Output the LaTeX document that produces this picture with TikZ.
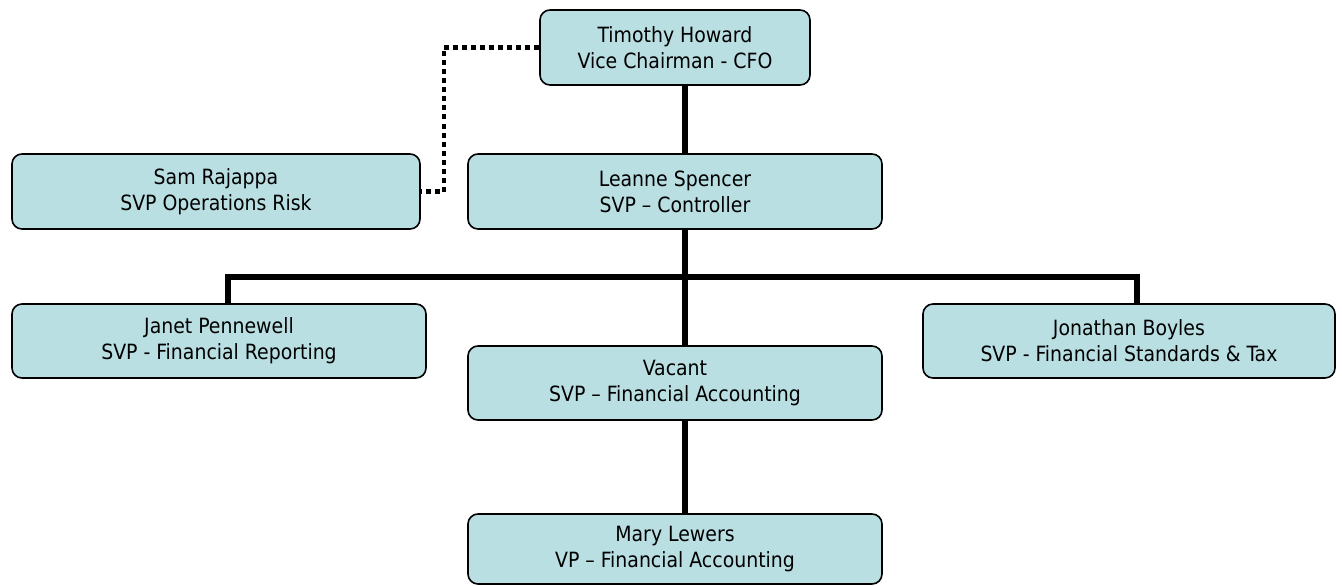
\documentclass[tikz,border=0pt]{standalone}
\usepackage{fontspec}
\setmainfont{DejaVu Sans Condensed}
\definecolor{boxfill}{RGB}{185,223,227}
\tikzset{
  person/.style={draw=black, line width=1.6pt, fill=boxfill, rounded corners=10pt,
    align=center, inner sep=0pt, font=\fontsize{21}{26}\selectfont},
  orgline/.style={line width=6pt},
  dotline/.style={line width=4.5pt, dash pattern=on 5pt off 4pt}
}
\begin{document}
\begin{tikzpicture}[x=1pt,y=-1pt]
    \useasboundingbox (0,0) rectangle (1342,586);

    % top of the chart
    \node[person, minimum width=270pt, minimum height=75pt] (tim) at (675,47.5)
        {Timothy Howard\\Vice Chairman - CFO};
    \node[person, minimum width=408pt, minimum height=75pt] (sam) at (216,191.5)
        {Sam Rajappa\\SVP Operations Risk};
    \node[person, minimum width=414pt, minimum height=75pt] (leanne) at (675,191.5)
        {Leanne Spencer\\SVP -- Controller};

    % second level
    \node[person, minimum width=414pt, minimum height=74pt] (janet) at (219,341)
        {Janet Pennewell\\SVP - Financial Reporting};
    \node[person, minimum width=414pt, minimum height=74pt] (vacant) at (675,383)
        {Vacant\\SVP -- Financial Accounting};
    \node[person, minimum width=412pt, minimum height=74pt] (jon) at (1129,341)
        {Jonathan Boyles\\SVP - Financial Standards \& Tax};
    \node[person, minimum width=414pt, minimum height=70pt] (mary) at (675,549)
        {Mary Lewers\\VP -- Financial Accounting};

    % connectors
    \coordinate (bus) at (685,277);
    \draw[orgline] ([xshift=10pt]tim.south) -- ([xshift=10pt]leanne.north);
    \draw[orgline] ([xshift=10pt]leanne.south) -- ([xshift=10pt]vacant.north);
    \draw[orgline] ([xshift=9pt]janet.north) |- (bus) -| ([xshift=8pt]jon.north);
    \draw[orgline] ([xshift=10pt]vacant.south) -- ([xshift=10pt]mary.north);
    \draw[dotline] (tim.west) -- ++(-95,0) |- (sam.east);
\end{tikzpicture}
\end{document}
